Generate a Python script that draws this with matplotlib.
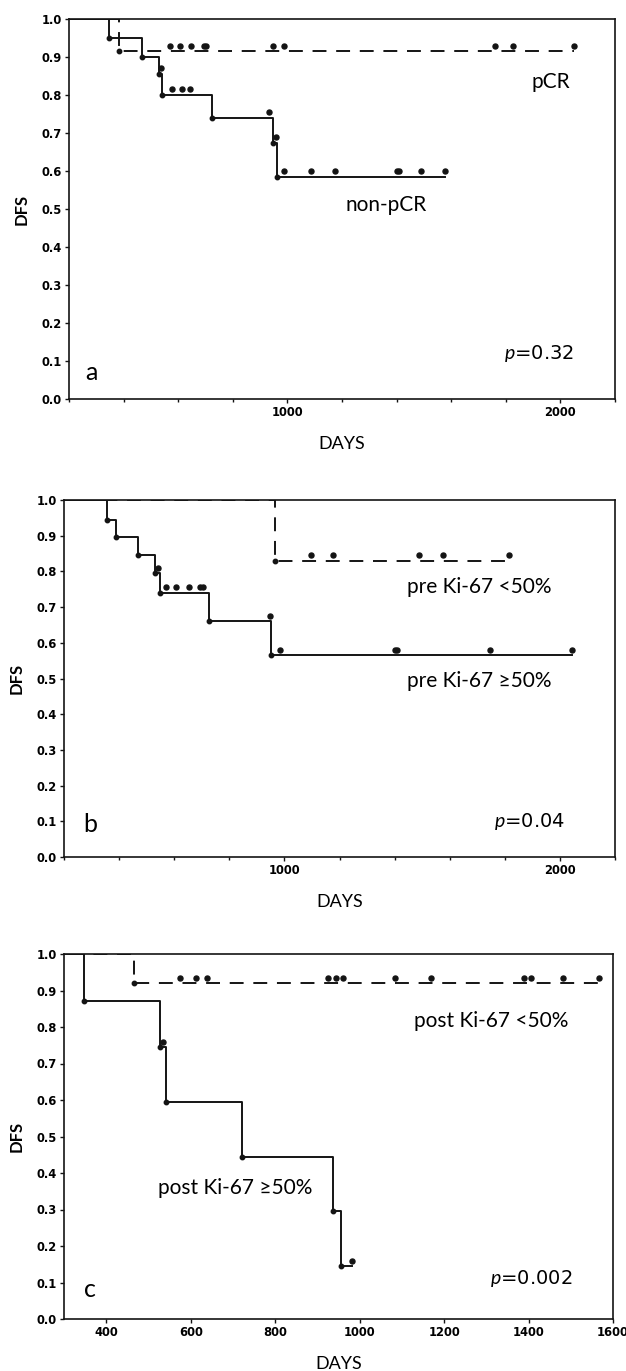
import matplotlib
matplotlib.use("Agg")
import matplotlib.pyplot as plt
import numpy as np
from matplotlib.ticker import MultipleLocator, FixedLocator, FormatStrFormatter

# --- panel a: pCR vs non-pCR ---
a_nonpcr_event_days = [347, 467, 529, 541, 724, 947, 962]
a_nonpcr_event_dfs = [0.95, 0.90, 0.855, 0.80, 0.74, 0.675, 0.585]
a_nonpcr_censor_days = [538, 577, 614, 643, 933, 959, 986, 1088, 1174, 1400, 1407, 1488, 1576]
a_pcr_event_days = [382]
a_pcr_event_dfs = [0.915]
a_pcr_censor_days = [570, 607, 648, 695, 702, 949, 986, 1759, 1826, 2050]

# --- panel b: pre-treatment Ki-67 ---
b_high_event_days = [356, 389, 469, 532, 550, 727, 950]
b_high_event_dfs = [0.945, 0.895, 0.845, 0.795, 0.74, 0.66, 0.565]
b_high_censor_days = [542, 569, 608, 652, 695, 703, 946, 984, 1402, 1409, 1747, 2043]
b_low_event_days = [966]
b_low_event_dfs = [0.83]
b_low_censor_days = [1096, 1176, 1489, 1574, 1817]

# --- panel c: post-treatment Ki-67 ---
c_high_event_days = [347, 527, 542, 722, 937, 956]
c_high_event_dfs = [0.87, 0.745, 0.595, 0.445, 0.295, 0.145]
c_high_censor_days = [535, 981]
c_low_event_days = [465]
c_low_event_dfs = [0.92]
c_low_censor_days = [574, 612, 639, 926, 944, 961, 1084, 1168, 1390, 1405, 1482, 1568]

W, H = 626, 1371
INK = "#141414"
CENSOR_LIFT = 0.015
LABEL_FONT = ["Lato", "DejaVu Sans"]

plt.rcParams["lines.scale_dashes"] = False
plt.rcParams["mathtext.fontset"] = "custom"
plt.rcParams["mathtext.it"] = "Lato:italic"
plt.rcParams["mathtext.rm"] = "Lato"


def dfs_at(days, event_days, event_dfs):
    levels = [1.0] + list(event_dfs)
    idx = np.searchsorted(event_days, days, side="right")
    return np.asarray(levels)[idx]


def draw_curve(ax, event_days, event_dfs, censor_days, dashed=False):
    end = max(max(censor_days), max(event_days))
    t = [0] + list(event_days) + [end]
    s = [1.0] + list(event_dfs) + [event_dfs[-1]]
    ls = (0, (10, 7)) if dashed else "-"
    ax.step(t, s, where="post", color=INK, lw=1.4, ls=ls, zorder=3)
    ax.plot(event_days, event_dfs, "o", color=INK, ms=3.2, zorder=4)
    cy = dfs_at(censor_days, event_days, event_dfs) + CENSOR_LIFT
    ax.plot(censor_days, cy, "o", color=INK, ms=3.6, zorder=4)


def style_axes(ax, xlim, major, minor, height_px):
    ax.set_xlim(*xlim)
    ax.set_ylim(0, 1.0)
    ax.yaxis.set_major_locator(MultipleLocator(0.1))
    ax.yaxis.set_major_formatter(FormatStrFormatter("%.1f"))
    ax.xaxis.set_major_locator(FixedLocator(major))
    if minor:
        ax.xaxis.set_minor_locator(MultipleLocator(minor))
    for sp in ax.spines.values():
        sp.set_linewidth(1.2)
        sp.set_color(INK)
    ax.tick_params(which="both", direction="out", length=3, width=1, color=INK,
                   labelsize=8.3, pad=2)
    ax.tick_params(which="minor", length=2)
    for lab in ax.get_xticklabels() + ax.get_yticklabels():
        lab.set_fontweight("bold")
        lab.set_family("DejaVu Sans")
    width_px = ax.get_position().width * W
    ax.set_ylabel("DFS", family=LABEL_FONT, fontsize=12, fontweight="bold")
    ax.yaxis.set_label_coords(-39 / width_px, 0.5)
    ax.set_xlabel("DAYS", family=LABEL_FONT, fontsize=13)
    ax.xaxis.set_label_coords(0.5, -37 / height_px)


def add_axes(left, right, top, bottom):
    return fig.add_axes([left / W, 1 - bottom / H, (right - left) / W, (bottom - top) / H])


def label(ax, x, y, s, size=15):
    ax.text(x, y, s, family=LABEL_FONT, fontsize=size, ha="center", va="center")


fig = plt.figure(figsize=(W / 100, H / 100), dpi=100)

# panel a
ax = add_axes(69, 615, 19, 399)
draw_curve(ax, a_pcr_event_days, a_pcr_event_dfs, a_pcr_censor_days, dashed=True)
draw_curve(ax, a_nonpcr_event_days, a_nonpcr_event_dfs, a_nonpcr_censor_days)
style_axes(ax, (200, 2200), [1000, 2000], 200, 380)
label(ax, 1965, 0.833, "pCR")
label(ax, 1363, 0.51, "non-pCR")
ax.text(1921, 0.12, r"$\it{p}$=0.32", fontsize=14, ha="center", va="center")
label(ax, 284, 0.07, "a", 18)

# panel b
ax = add_axes(64, 615, 500, 857)
draw_curve(ax, b_low_event_days, b_low_event_dfs, b_low_censor_days, dashed=True)
draw_curve(ax, b_high_event_days, b_high_event_dfs, b_high_censor_days)
style_axes(ax, (200, 2200), [1000, 2000], 200, 357)
label(ax, 1708, 0.756, "pre Ki-67 <50%")
label(ax, 1708, 0.493, "pre Ki-67 \u226550%")
ax.text(1890, 0.10, r"$\it{p}$=0.04", fontsize=14, ha="center", va="center")
label(ax, 295, 0.09, "b", 18)

# panel c
ax = add_axes(64, 613, 954, 1319)
draw_curve(ax, c_low_event_days, c_low_event_dfs, c_low_censor_days, dashed=True)
draw_curve(ax, c_high_event_days, c_high_event_dfs, c_high_censor_days)
style_axes(ax, (300, 1600), list(range(400, 1601, 200)), None, 365)
label(ax, 1312, 0.817, "post Ki-67 <50%")
label(ax, 705, 0.36, "post Ki-67 \u226550%")
ax.text(1407, 0.11, r"$\it{p}$=0.002", fontsize=14, ha="center", va="center")
label(ax, 361, 0.08, "c", 18)

fig.savefig("out.png", dpi=100)
